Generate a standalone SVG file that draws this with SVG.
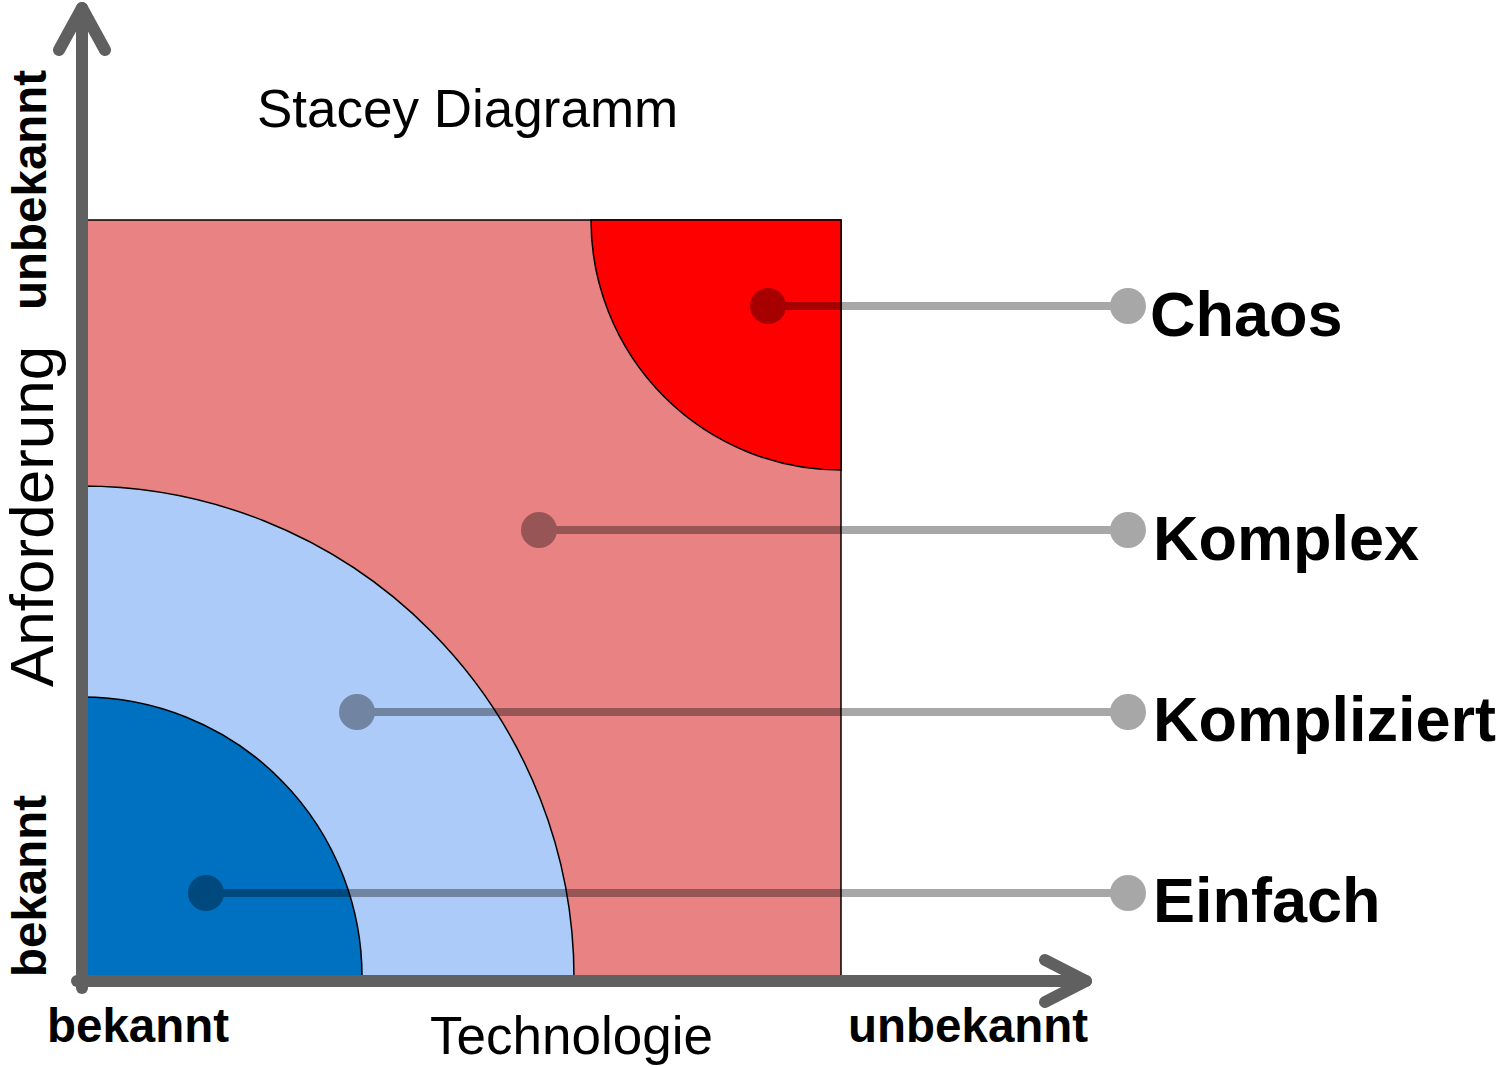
<svg xmlns="http://www.w3.org/2000/svg" width="1500" height="1067" viewBox="0 0 1500 1067">
<style>
.reg{font-family:"Liberation Sans",Arial,sans-serif;fill:#000}
.bold{font-family:"Liberation Sans",Arial,sans-serif;font-weight:bold;fill:#000}
.axis{stroke:#606060;stroke-width:12;fill:none;stroke-linecap:round;stroke-linejoin:round}
.conn{opacity:0.34}
.conn line{stroke:#000;stroke-width:8}
.conn circle{fill:#000}
.edge{stroke:#000;stroke-width:1.5}
</style>
<rect width="1500" height="1067" fill="#fff"/>
<g id="komplex-area">
<rect x="82" y="220" width="759" height="761" fill="#e88283" class="edge"/>
</g>
<g id="chaos-area">
<path d="M591,220 A250,250 0 0 0 841,470 L841,220 Z" fill="#ff0000" class="edge"/>
</g>
<g id="kompliziert-area">
<path d="M82,486 A492,492 0 0 1 574,981 L82,981 Z" fill="#adcbf8" class="edge"/>
</g>
<g id="einfach-area">
<path d="M82,697 A280,280 0 0 1 362,981 L82,981 Z" fill="#0070c0" class="edge"/>
</g>
<g id="axes">
<path class="axis" d="M82,988 L82,8"/>
<path class="axis" d="M59,50 L82,8 L105,50"/>
<path class="axis" d="M77,981 L1086,981"/>
<path class="axis" d="M1045,960 L1086,981 L1045,1002"/>
</g>
<g id="connectors">
<g class="conn"><line x1="768" y1="306" x2="1128" y2="306"/><circle cx="768" cy="306" r="18"/><circle cx="1128" cy="306" r="18"/></g>
<g class="conn"><line x1="539" y1="530" x2="1128" y2="530"/><circle cx="539" cy="530" r="18"/><circle cx="1128" cy="530" r="18"/></g>
<g class="conn"><line x1="357" y1="712" x2="1128" y2="712"/><circle cx="357" cy="712" r="18"/><circle cx="1128" cy="712" r="18"/></g>
<g class="conn"><line x1="206" y1="893" x2="1128" y2="893"/><circle cx="206" cy="893" r="18"/><circle cx="1128" cy="893" r="18"/></g>
</g>
<g id="title"><text class="reg" x="257" y="127" font-size="53">Stacey Diagramm</text></g>
<g id="label-chaos"><text class="bold" x="1150" y="336" font-size="63">Chaos</text></g>
<g id="label-komplex"><text class="bold" x="1153" y="560" font-size="63">Komplex</text></g>
<g id="label-kompliziert"><text class="bold" x="1153" y="741" font-size="63">Kompliziert</text></g>
<g id="label-einfach"><text class="bold" x="1153" y="922" font-size="63">Einfach</text></g>
<g id="x-axis-labels">
<text class="bold" x="47" y="1042" font-size="47.5">bekannt</text>
<text class="reg" x="430" y="1054" font-size="53">Technologie</text>
<text class="bold" x="848" y="1042" font-size="47.5">unbekannt</text>
</g>
<g id="y-axis-labels">
<text class="bold" font-size="47.5" transform="translate(46,977) rotate(-90)">bekannt</text>
<text class="reg" font-size="62" transform="translate(53,687) rotate(-90)">Anforderung</text>
<text class="bold" font-size="47.5" transform="translate(46,310) rotate(-90)">unbekannt</text>
</g>
</svg>
